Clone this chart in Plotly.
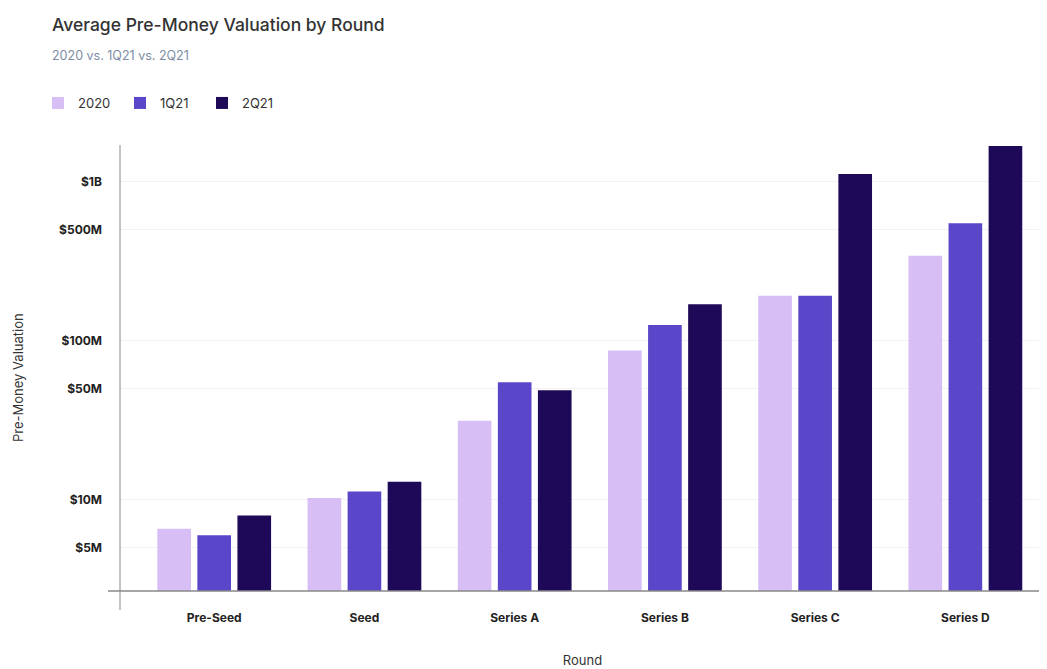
import plotly.graph_objects as go

rounds = ["Pre-Seed", "Seed", "Series A", "Series B", "Series C", "Series D"]
v2020 = [6.6e6, 10.3e6, 31.5e6, 87e6, 192e6, 343e6]
v1q21 = [6.0e6, 11.3e6, 55e6, 126e6, 192e6, 548e6]
v2q21 = [8.0e6, 13.0e6, 49e6, 170e6, 1.12e9, 1.68e9]
tick_vals = [5e6, 10e6, 50e6, 100e6, 500e6, 1e9]
tick_text = ["$5M", "$10M", "$50M", "$100M", "$500M", "$1B"]

series = [("2020", v2020, "#D7BEF5"), ("1Q21", v1q21, "#5A46C8"), ("2Q21", v2q21, "#1E0858")]

# page body has an 8px margin; work in reference-pixel coordinates and subtract it
O = 8
W, H = 1047 - O, 669 - O
L, R, T, B = 120 - O, 1045 - O, 145 - O, 591 - O

def px(xref_px):
    return (xref_px - 120) / (R - L)

def py(yref_px):
    return (591 - yref_px) / (B - T)

fig = go.Figure()
for name, vals, col in series:
    fig.add_trace(go.Bar(x=rounds, y=vals, name=name, marker=dict(color=col, line=dict(width=0))))

fig.update_layout(
    width=W, height=H,
    margin=dict(l=L, r=W - R, t=T, b=H - B, autoexpand=False),
    paper_bgcolor="white", plot_bgcolor="white",
    font=dict(family="Inter, Roboto, sans-serif", color="#222"),
    barmode="group", bargap=0.2, bargroupgap=0.16,
    showlegend=True,
    legend=dict(orientation="h", xref="container", yref="container",
                x=(38 - O) / W, y=1 - (103 - O) / H, xanchor="left", yanchor="middle",
                font=dict(size=13, color="#333"), itemwidth=30, traceorder="normal",
                entrywidth=37, entrywidthmode="pixels"),
    xaxis=dict(range=[-0.627, 5.53], showgrid=False, showline=False, zeroline=False,
               ticks="", ticklabelstandoff=18, tickfont=dict(size=12, color="#222", weight=700),
               title=dict(text="Round", font=dict(size=13, color="#333"), standoff=31)),
    yaxis=dict(type="log", range=[6.428, 9.231], tickvals=tick_vals, ticktext=tick_text,
               showgrid=True, gridcolor="#F2F2F4", gridwidth=1, showline=False, zeroline=False,
               ticks="", ticklabelstandoff=17,
               tickfont=dict(size=12, color="#222", weight=700)),
    annotations=[
        dict(text="Average Pre-Money Valuation by Round", xref="paper", yref="paper",
             x=px(50), y=py(25), xanchor="left", yanchor="middle",
             showarrow=False, font=dict(size=17.5, color="#333", weight=500)),
        dict(text="2020 vs. 1Q21 vs. 2Q21", xref="paper", yref="paper",
             x=px(50), y=py(55), xanchor="left", yanchor="middle",
             showarrow=False, font=dict(size=12.5, color="#7C8CA4")),
        dict(text="Pre-Money Valuation", xref="paper", yref="paper", textangle=-90,
             x=px(18), y=py(378), xanchor="center", yanchor="middle",
             showarrow=False, font=dict(size=13, color="#333")),
    ],
    shapes=[
        dict(type="line", xref="paper", yref="paper", x0=0, x1=0,
             y0=py(610), y1=1, line=dict(color="#888", width=1)),
        dict(type="line", xref="paper", yref="paper", x0=px(108), x1=1,
             y0=0, y1=0, line=dict(color="#888", width=1.5)),
    ],
)

fig.write_html("out.html")
